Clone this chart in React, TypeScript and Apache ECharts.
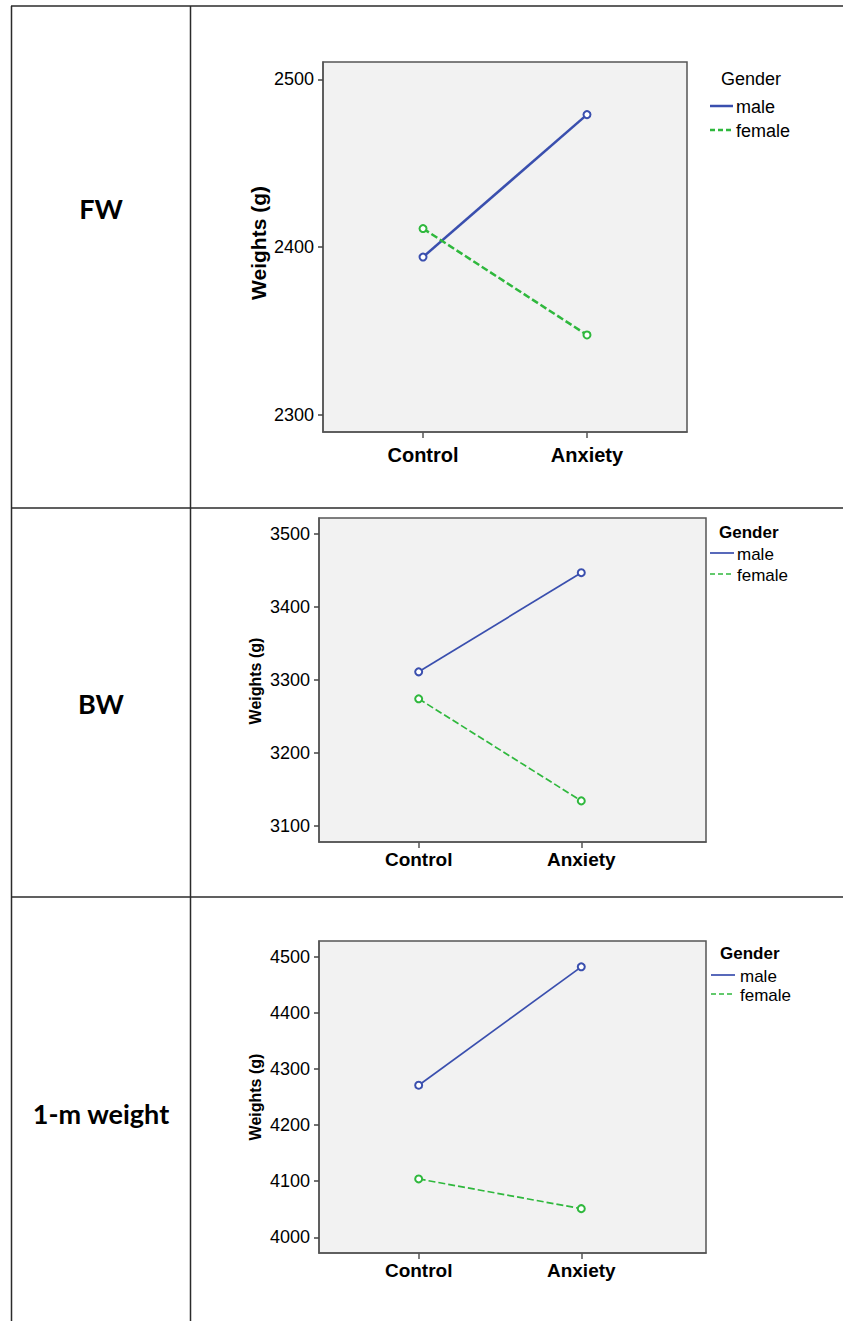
import React, { useEffect, useRef } from "react";
import * as echarts from "echarts";

const CATEGORIES = ["Control", "Anxiety"];
const SERIES_NAMES = ["male", "female"];
const LEGEND_TITLE = "Gender";
const ROW_LABELS = ["FW", "BW", "1-m weight"];
const Y_TITLE = "Weights (g)";

const FW_MALE = [2394, 2479];
const FW_FEMALE = [2411, 2347.5];
const BW_MALE = [3311, 3447];
const BW_FEMALE = [3274, 3134];
const M1_MALE = [4271, 4482];
const M1_FEMALE = [4104, 4051];

const FW_TICKS = [2300, 2400, 2500];
const BW_TICKS = [3100, 3200, 3300, 3400, 3500];
const M1_TICKS = [4000, 4100, 4200, 4300, 4400, 4500];

const BLUE = "#3a4fae";
const GREEN = "#2fb83d";
const FONT = "'Liberation Sans', Arial, sans-serif";

const panels = [
  {
    grid: { left: 323, top: 62, width: 364, height: 370 },
    yMin: 2289.6, yMax: 2510.4, ticks: FW_TICKS, male: FW_MALE, female: FW_FEMALE,
    xMin: -0.61, xMax: 1.61, yFont: 18, xFont: 20, xMargin: 13, lineW: 2.5,
    title: { x: 258, y: 243, size: 21 },
    legend: { titleX: 721, titleY: 79, titleBold: false, titleSize: 18, maleY: 106, femaleY: 130, x1: 710, x2: 733, textX: 736, size: 18 },
    rowLabelY: 208,
  },
  {
    grid: { left: 319, top: 518, width: 387, height: 324 },
    yMin: 3077.6, yMax: 3522, ticks: BW_TICKS, male: BW_MALE, female: BW_FEMALE,
    xMin: -0.613, xMax: 1.767, yFont: 18, xFont: 19, xMargin: 8, lineW: 1.7,
    title: { x: 255, y: 681, size: 16 },
    legend: { titleX: 719, titleY: 532, titleBold: true, titleSize: 17, maleY: 553, femaleY: 574, x1: 710, x2: 734, textX: 737, size: 17 },
    rowLabelY: 703,
  },
  {
    grid: { left: 319, top: 941, width: 387, height: 312 },
    yMin: 3972, yMax: 4528, ticks: M1_TICKS, male: M1_MALE, female: M1_FEMALE,
    xMin: -0.613, xMax: 1.767, yFont: 18, xFont: 19, xMargin: 8, lineW: 1.7,
    title: { x: 255, y: 1097, size: 16 },
    legend: { titleX: 720, titleY: 953, titleBold: true, titleSize: 17, maleY: 975, femaleY: 994, x1: 711, x2: 735, textX: 740, size: 17 },
    rowLabelY: 1113,
  },
];

export default function App() {
  const ref = useRef<HTMLDivElement>(null);
  useEffect(() => {
    document.body.style.margin = "0";
    const chart = echarts.init(ref.current!, null, { renderer: "svg" });
    const grids: any[] = [];
    const xAxes: any[] = [];
    const yAxes: any[] = [];
    const series: any[] = [];
    const graphic: any[] = [];

    const lineStyle = { stroke: "#2b2b2b", lineWidth: 1.5 };
    graphic.push({ type: "line", shape: { x1: 11.5, y1: 6, x2: 11.5, y2: 1321 }, style: lineStyle });
    graphic.push({ type: "line", shape: { x1: 190.5, y1: 6, x2: 190.5, y2: 1321 }, style: lineStyle });
    [6, 508, 897].forEach((y) =>
      graphic.push({ type: "line", shape: { x1: 11, y1: y, x2: 843, y2: y }, style: lineStyle })
    );

    panels.forEach((p, i) => {
      grids.push({
        ...p.grid,
        show: true,
        backgroundColor: "#f2f2f2",
        borderColor: "#555",
        borderWidth: 1.5,
      });
      xAxes.push({
        type: "value",
        gridIndex: i,
        min: p.xMin,
        max: p.xMax,
        splitLine: { show: false },
        axisLine: { show: true, onZero: false, lineStyle: { color: "#555", width: 1.5 } },
        axisTick: { show: true, customValues: [0, 1], length: 6, lineStyle: { color: "#555", width: 1.5 } },
        axisLabel: {
          customValues: [0, 1],
          formatter: (v: number) => CATEGORIES[Math.round(v)] ?? "",
          fontFamily: FONT,
          fontWeight: "bold",
          fontSize: p.xFont,
          color: "#000",
          margin: p.xMargin,
        },
      });
      yAxes.push({
        type: "value",
        gridIndex: i,
        min: p.yMin,
        max: p.yMax,
        splitLine: { show: false },
        axisLine: { show: true, onZero: false, lineStyle: { color: "#555", width: 1.5 } },
        axisTick: { show: true, customValues: p.ticks, length: 5, lineStyle: { color: "#444", width: 1.5 } },
        axisLabel: {
          customValues: p.ticks,
          formatter: (v: number) => String(Math.round(v)),
          fontFamily: FONT,
          fontSize: p.yFont,
          color: "#000",
          margin: 9,
        },
      });
      series.push({
        type: "line",
        name: SERIES_NAMES[0],
        xAxisIndex: i,
        yAxisIndex: i,
        data: p.male.map((v, k) => [k, v]),
        symbol: "emptyCircle",
        symbolSize: 7,
        lineStyle: { color: BLUE, width: p.lineW },
        itemStyle: { color: BLUE, borderWidth: 1 },
      });
      series.push({
        type: "line",
        name: SERIES_NAMES[1],
        xAxisIndex: i,
        yAxisIndex: i,
        data: p.female.map((v, k) => [k, v]),
        symbol: "emptyCircle",
        symbolSize: 7,
        lineStyle: { color: GREEN, width: p.lineW, type: [7, 3] },
        itemStyle: { color: GREEN, borderWidth: 1 },
      });

      graphic.push({
        type: "text",
        x: p.title.x,
        y: p.title.y,
        rotation: Math.PI / 2,
        style: {
          text: Y_TITLE,
          font: `bold ${p.title.size}px ${FONT}`,
          fill: "#000",
          align: "center",
          verticalAlign: "middle",
        },
      });
      const L = p.legend;
      graphic.push({
        type: "text",
        x: L.titleX,
        y: L.titleY,
        style: {
          text: LEGEND_TITLE,
          font: `${L.titleBold ? "bold " : ""}${L.titleSize}px ${FONT}`,
          fill: "#000",
          align: "left",
          verticalAlign: "middle",
        },
      });
      graphic.push({
        type: "line",
        shape: { x1: L.x1, y1: L.maleY, x2: L.x2, y2: L.maleY },
        style: { stroke: BLUE, lineWidth: p.lineW },
      });
      graphic.push({
        type: "line",
        shape: { x1: L.x1, y1: L.femaleY, x2: L.x2, y2: L.femaleY },
        style: { stroke: GREEN, lineWidth: p.lineW, lineDash: [5, 3] },
      });
      graphic.push({
        type: "text",
        x: L.textX,
        y: L.maleY + 1,
        style: { text: SERIES_NAMES[0], font: `${L.size}px ${FONT}`, fill: "#000", align: "left", verticalAlign: "middle" },
      });
      graphic.push({
        type: "text",
        x: L.textX,
        y: L.femaleY + 1,
        style: { text: SERIES_NAMES[1], font: `${L.size}px ${FONT}`, fill: "#000", align: "left", verticalAlign: "middle" },
      });
      graphic.push({
        type: "text",
        x: 101,
        y: p.rowLabelY,
        style: {
          text: ROW_LABELS[i],
          font: `bold 27px Lato, 'Open Sans', sans-serif`,
          fill: "#000",
          align: "center",
          verticalAlign: "middle",
        },
      });
    });

    chart.setOption({
      animation: false,
      backgroundColor: "#fff",
      grid: grids,
      xAxis: xAxes,
      yAxis: yAxes,
      series,
      graphic,
    });
    return () => chart.dispose();
  }, []);
  return (
    <div
      ref={ref}
      style={{ position: "absolute", left: 0, top: 0, width: 843, height: 1321 }}
    />
  );
}
